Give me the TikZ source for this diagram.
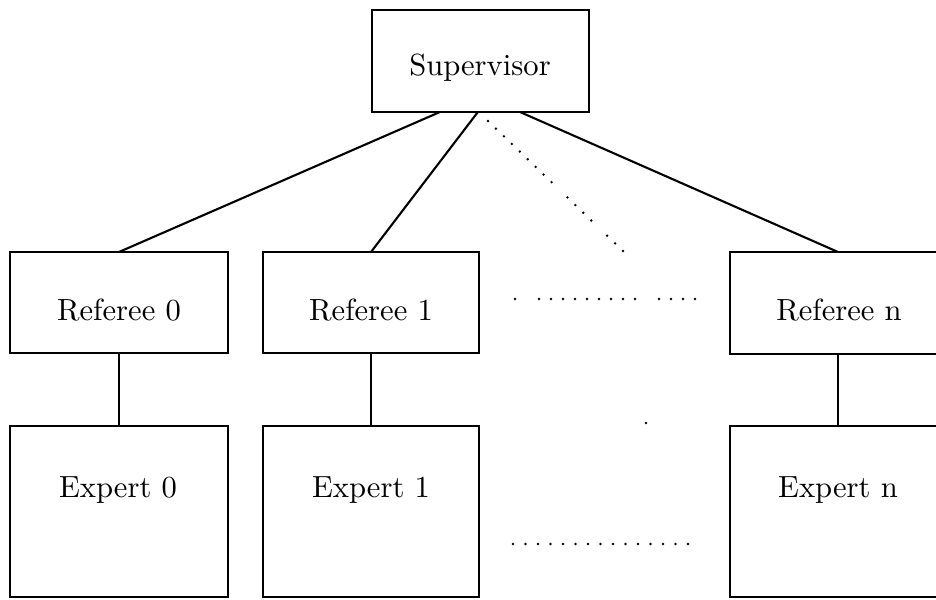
\documentclass[tikz,border=0pt]{standalone}
\usetikzlibrary{calc}
\begin{document}
\begin{tikzpicture}[x=0.3333pt, y=-0.3333pt,
  box/.style={draw, line width=0.7pt, rectangle, inner sep=0pt, outer sep=0pt},
  lbl/.style={anchor=base, inner sep=0pt, font=\fontsize{10.2}{12}\selectfont},
  con/.style={line width=0.7pt},
  dotp/.style={radius=0.45pt}]
\useasboundingbox (0,0) rectangle (936,600);
\clip (0,0) rectangle (936,600);
% boxes
\node[box, minimum width=217*0.3333pt, minimum height=102*0.3333pt] (sup) at (480.5,61) {};
\node[box, minimum width=218*0.3333pt, minimum height=101*0.3333pt] (r0) at (119,302.5) {};
\node[box, minimum width=216*0.3333pt, minimum height=101*0.3333pt] (r1) at (371,302.5) {};
\node[box, minimum width=216*0.3333pt, minimum height=102*0.3333pt] (rn) at (838,303) {};
\node[box, minimum width=218*0.3333pt, minimum height=171*0.3333pt] (e0) at (119,511.5) {};
\node[box, minimum width=216*0.3333pt, minimum height=171*0.3333pt] (e1) at (371,511.5) {};
\node[box, minimum width=216*0.3333pt, minimum height=171*0.3333pt] (en) at (838,511.5) {};
% labels
\node[lbl] (tsup) at (480,76) {Supervisor};
\node[lbl] (tr0) at (119,321) {Referee 0};
\node[lbl] (tr1) at (371,321) {Referee 1};
\node[lbl] (trn) at (839,321) {Referee n};
\node[lbl] (te0) at (118,497) {Expert 0};
\node[lbl] (te1) at (371,497) {Expert 1};
\node[lbl] (ten) at (838,497) {Expert n};
% connectors
\coordinate (s0) at ($(sup.south west)!0.313!(sup.south east)$);
\coordinate (s1) at ($(sup.south west)!0.488!(sup.south east)$);
\coordinate (sn) at ($(sup.south west)!0.682!(sup.south east)$);
\coordinate (dend) at (623,251);
\draw[con] (s0) -- (r0.north);
\draw[con] (s1) -- (r1.north);
\draw[con] (sn) -- (rn.north);
\draw[con] (r0.south) -- (e0.north);
\draw[con] (r1.south) -- (e1.north);
\draw[con] (rn.south) -- (en.north);
% dotted diagonal
\foreach \i in {0,...,17}{
  \ifnum\i=9 \else\ifnum\i=14 \else
    \fill ($(488,121)!\i/17!(dend)$) circle[dotp];
  \fi\fi
}
% dotted horizontal between referees
\fill (515,299) circle[dotp];
\foreach \k in {0,...,8} \fill (539+12*\k,299) circle[dotp];
\foreach \k in {0,...,3} \fill (659+12*\k,299) circle[dotp];
% dotted horizontal between experts
\foreach \k in {0,...,14} \fill (513+12.5*\k,544) circle[dotp];
\fill (646,423) circle[dotp];
\end{tikzpicture}
\end{document}
